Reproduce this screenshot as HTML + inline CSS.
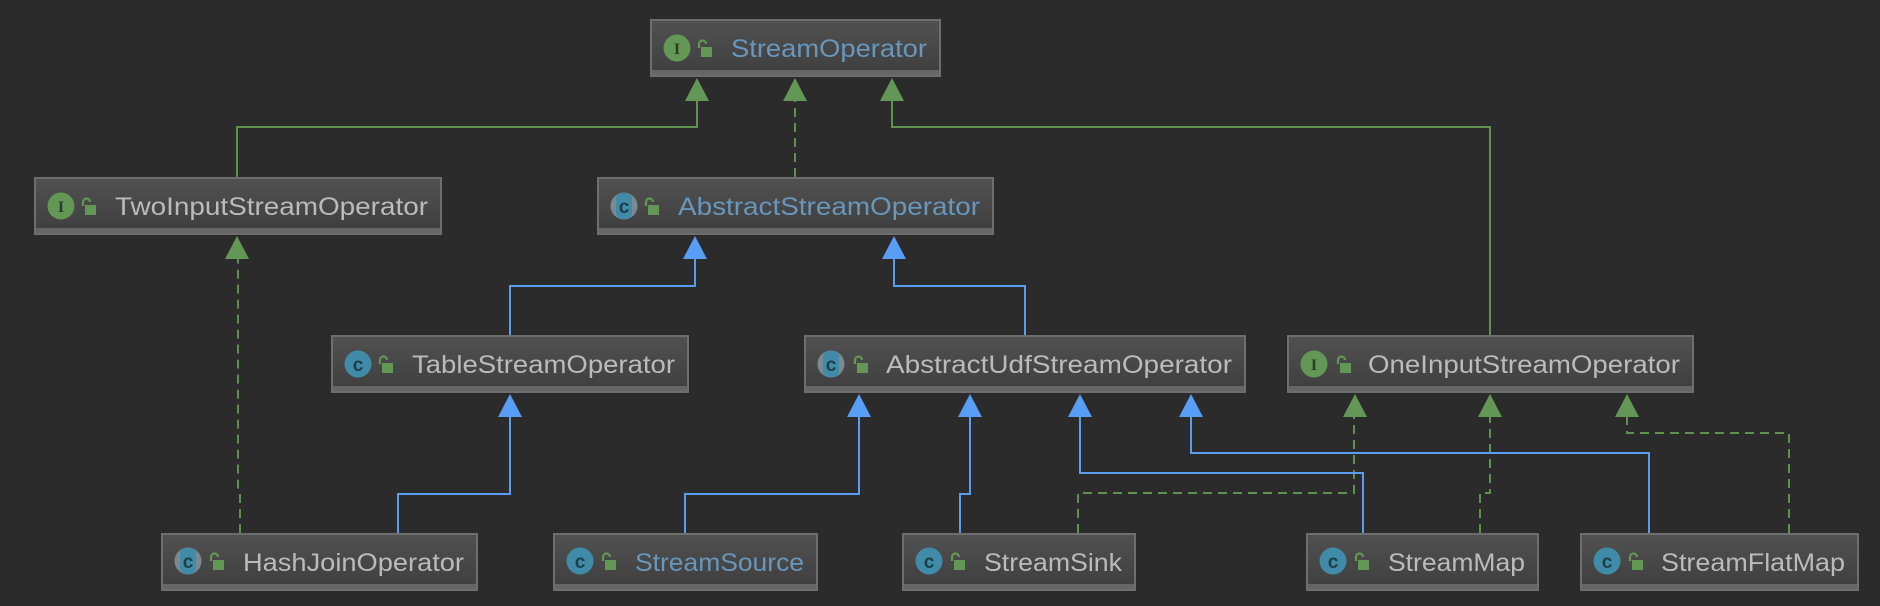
<!DOCTYPE html>
<html><head><meta charset="utf-8"><style>
html,body{margin:0;padding:0;background:#2b2b2b;}
svg{display:block}
text{font-family:"Liberation Sans",sans-serif;font-size:25px;}
</style></head><body>
<svg width="1880" height="606" viewBox="0 0 1880 606" xmlns="http://www.w3.org/2000/svg">
<defs>
<linearGradient id="g" x1="0" y1="0" x2="0" y2="1">
<stop offset="0" stop-color="#515151"/><stop offset="1" stop-color="#3e3e3e"/>
</linearGradient>
<g id="lock"><path d="M2 9 V5 a3.5 3.5 0 0 1 7 0" fill="none" stroke="#629755" stroke-width="2.2"/><rect x="4" y="8" width="11" height="10" fill="#629755"/></g>
<g id="ii"><circle r="13.5" fill="#629755"/><text x="0" y="6" text-anchor="middle" style="font-family:'Liberation Serif',serif;font-size:16px;font-weight:bold" fill="#2e3a2a">I</text></g>
<g id="cc"><circle r="13.5" fill="#3f8ba8"/><text x="0" y="7" text-anchor="middle" style="font-size:19px;font-weight:bold" fill="#1e3e4a">c</text></g>
<g id="ac"><circle r="13.5" fill="#7a8a90"/><rect x="-8" y="-13" width="16" height="26" rx="6" fill="#3f8ba8"/><text x="0" y="7" text-anchor="middle" style="font-size:19px;font-weight:bold" fill="#1e3e4a">c</text></g>
</defs>

<g fill="none" stroke-width="2">
<g stroke="#5e9150">
<polyline points="237,177 237,127 697,127 697,100"/>
<polyline points="1490,335 1490,127 892,127 892,100"/>
</g>
<g stroke="#5e9150" stroke-dasharray="9,6">
<line x1="795" y1="177" x2="795" y2="100"/>
<polyline points="240,533 240,493 238,490 238,258"/>
<polyline points="1078,533 1078,493 1354,493 1354,416"/>
<polyline points="1480,533 1480,493 1490,493 1490,416"/>
<polyline points="1789,533 1789,433 1627,433 1627,416"/>
</g>
<g stroke="#5a9cf0">
<polyline points="510,335 510,286 695,286 695,258"/>
<polyline points="1025,335 1025,286 894,286 894,258"/>
<polyline points="398,533 398,494 510,494 510,416"/>
<polyline points="685,533 685,494 859,494 859,416"/>
<polyline points="960,533 960,494 970,494 970,416"/>
<polyline points="1363,533 1363,473 1080,473 1080,416"/>
<polyline points="1649,533 1649,453 1191,453 1191,416"/>
</g>
</g>
<g fill="#629755">
<polygon points="697,78 685,101 709,101"/>
<polygon points="795,78 783,101 807,101"/>
<polygon points="892,78 880,101 904,101"/>
<polygon points="237,236 225,259 249,259"/>
<polygon points="1355,394 1343,417 1367,417"/>
<polygon points="1490,394 1478,417 1502,417"/>
<polygon points="1627,394 1615,417 1639,417"/>
</g>
<g fill="#589df6">
<polygon points="695,236 683,259 707,259"/>
<polygon points="894,236 882,259 906,259"/>
<polygon points="510,394 498,417 522,417"/>
<polygon points="859,394 847,417 871,417"/>
<polygon points="970,394 958,417 982,417"/>
<polygon points="1080,394 1068,417 1092,417"/>
<polygon points="1191,394 1179,417 1203,417"/>
</g>

<g stroke="#6e6e6e" stroke-width="2">
<rect x="651" y="20" width="289" height="56" fill="url(#g)"/>
<rect x="35" y="178" width="406" height="56" fill="url(#g)"/>
<rect x="598" y="178" width="395" height="56" fill="url(#g)"/>
<rect x="332" y="336" width="356" height="56" fill="url(#g)"/>
<rect x="805" y="336" width="440" height="56" fill="url(#g)"/>
<rect x="1288" y="336" width="405" height="56" fill="url(#g)"/>
<rect x="162" y="534" width="315" height="56" fill="url(#g)"/>
<rect x="554" y="534" width="263" height="56" fill="url(#g)"/>
<rect x="903" y="534" width="232" height="56" fill="url(#g)"/>
<rect x="1307" y="534" width="231" height="56" fill="url(#g)"/>
<rect x="1581" y="534" width="277" height="56" fill="url(#g)"/>
</g>
<g fill="#666">
<rect x="652" y="70" width="287" height="5"/>
<rect x="36" y="228" width="404" height="5"/>
<rect x="599" y="228" width="393" height="5"/>
<rect x="333" y="386" width="354" height="5"/>
<rect x="806" y="386" width="438" height="5"/>
<rect x="1289" y="386" width="403" height="5"/>
<rect x="163" y="584" width="313" height="5"/>
<rect x="555" y="584" width="261" height="5"/>
<rect x="904" y="584" width="230" height="5"/>
<rect x="1308" y="584" width="229" height="5"/>
<rect x="1582" y="584" width="275" height="5"/>
</g>

<use href="#ii" x="677" y="48"/><use href="#lock" x="697" y="39"/>
<use href="#ii" x="61" y="206"/><use href="#lock" x="81" y="197"/>
<use href="#ac" x="624" y="206"/><use href="#lock" x="644" y="197"/>
<use href="#cc" x="358" y="364"/><use href="#lock" x="378" y="355"/>
<use href="#ac" x="831" y="364"/><use href="#lock" x="853" y="355"/>
<use href="#ii" x="1314" y="364"/><use href="#lock" x="1336" y="355"/>
<use href="#ac" x="188" y="561"/><use href="#lock" x="209" y="552"/>
<use href="#cc" x="580" y="561"/><use href="#lock" x="601" y="552"/>
<use href="#cc" x="929" y="561"/><use href="#lock" x="950" y="552"/>
<use href="#cc" x="1333" y="561"/><use href="#lock" x="1354" y="552"/>
<use href="#cc" x="1607" y="561"/><use href="#lock" x="1628" y="552"/>

<text x="731" y="57" textLength="196" lengthAdjust="spacingAndGlyphs" fill="#6897bb">StreamOperator</text>
<text x="115" y="215" textLength="313" lengthAdjust="spacingAndGlyphs" fill="#bbbbbb">TwoInputStreamOperator</text>
<text x="678" y="215" textLength="302" lengthAdjust="spacingAndGlyphs" fill="#6897bb">AbstractStreamOperator</text>
<text x="412" y="373" textLength="263" lengthAdjust="spacingAndGlyphs" fill="#bbbbbb">TableStreamOperator</text>
<text x="886" y="373" textLength="346" lengthAdjust="spacingAndGlyphs" fill="#bbbbbb">AbstractUdfStreamOperator</text>
<text x="1368" y="373" textLength="312" lengthAdjust="spacingAndGlyphs" fill="#bbbbbb">OneInputStreamOperator</text>
<text x="243" y="571" textLength="221" lengthAdjust="spacingAndGlyphs" fill="#bbbbbb">HashJoinOperator</text>
<text x="635" y="571" textLength="169" lengthAdjust="spacingAndGlyphs" fill="#6897bb">StreamSource</text>
<text x="984" y="571" textLength="138" lengthAdjust="spacingAndGlyphs" fill="#bbbbbb">StreamSink</text>
<text x="1388" y="571" textLength="137" lengthAdjust="spacingAndGlyphs" fill="#bbbbbb">StreamMap</text>
<text x="1661" y="571" textLength="184" lengthAdjust="spacingAndGlyphs" fill="#bbbbbb">StreamFlatMap</text>
</svg>
</body></html>
